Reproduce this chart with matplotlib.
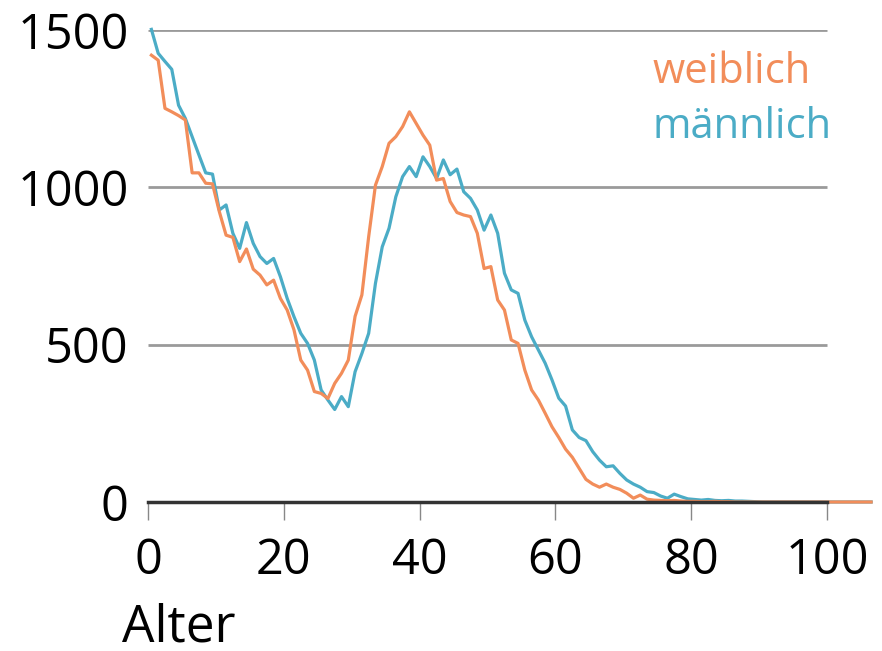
import matplotlib.pyplot as plt
import numpy as np

plt.rcParams['font.family'] = ['Open Sans', 'DejaVu Sans']

# Anzahl pro Altersjahr 0..106
alter = np.arange(0, 107)
weiblich = [1420, 1404, 1251, 1240, 1228, 1214, 1046, 1046, 1013, 1011,
            923, 848, 841, 764, 804, 740, 721, 690, 705, 647,
            610, 547, 451, 419, 351, 345, 329, 377, 409, 451,
            590, 658, 843, 1007, 1066, 1140, 1161, 1193, 1240, 1203,
            1166, 1134, 1023, 1028, 955, 920, 912, 907, 854, 742,
            748, 642, 610, 515, 504, 419, 356, 324, 282, 239,
            205, 168, 142, 107, 72, 57, 47, 57, 47, 40,
            28, 12, 22, 9, 6, 5, 4, 5, 3, 2,
            2, 1, 1, 2, 1, 1] + [0] * 21
maennlich = [1502, 1426, 1400, 1375, 1261, 1219, 1161, 1103, 1046, 1042,
             928, 944, 854, 806, 888, 822, 780, 758, 774, 716,
             647, 589, 536, 504, 451, 356, 324, 294, 335, 303,
             414, 472, 536, 695, 811, 870, 970, 1034, 1066, 1034,
             1097, 1066, 1028, 1087, 1040, 1058, 986, 965, 928, 864,
             912, 854, 727, 674, 663, 578, 525, 483, 441, 388,
             330, 305, 229, 205, 195, 160, 133, 112, 115, 91,
             70, 57, 47, 33, 30, 19, 12, 25, 17, 10,
             8, 6, 8, 5, 4, 5, 3, 3, 2, 1] + [0] * 17
yticks = [0, 500, 1000, 1500]
xticks = [0, 20, 40, 60, 80, 100]

orange = '#F28D5A'
blau = '#4BACC6'

fig = plt.figure(figsize=(8.82, 6.51), dpi=100)
ax = fig.add_axes([148 / 882, 1 - 502 / 651, (874.5 - 148) / 882, (502 - 30) / 651])

ax.hlines(yticks[1:], 0, 100, color='#9a9a9a', lw=2, zorder=1)
ax.plot(alter + 0.5, maennlich, color=blau, lw=2.3, zorder=2, clip_on=False)
ax.plot(alter + 0.5, weiblich, color=orange, lw=2.3, zorder=2.1, clip_on=False)

ax.set_xlim(0, 107)
ax.set_ylim(0, 1500)
for s in ['top', 'right', 'left']:
    ax.spines[s].set_visible(False)
ax.spines['bottom'].set_bounds(0, 100)
ax.spines['bottom'].set_linewidth(2.5)
ax.spines['bottom'].set_color('#333333')
ax.spines['bottom'].set_zorder(3)

ax.set_xticks(xticks)
ax.set_yticks(yticks)
ax.tick_params(axis='x', length=13, width=1, color='#888888', pad=12, labelsize=35)
ax.tick_params(axis='y', length=0, pad=14, labelsize=35)

fig.text(653 / 882, 1 - 83 / 651, 'weiblich', color=orange, fontsize=30, va='baseline')
fig.text(653 / 882, 1 - 138 / 651, 'männlich', color=blau, fontsize=30, va='baseline')
fig.text(122 / 882, 1 - 641 / 651, 'Alter', fontsize=37, va='baseline')

fig.savefig('out.png', dpi=100)
